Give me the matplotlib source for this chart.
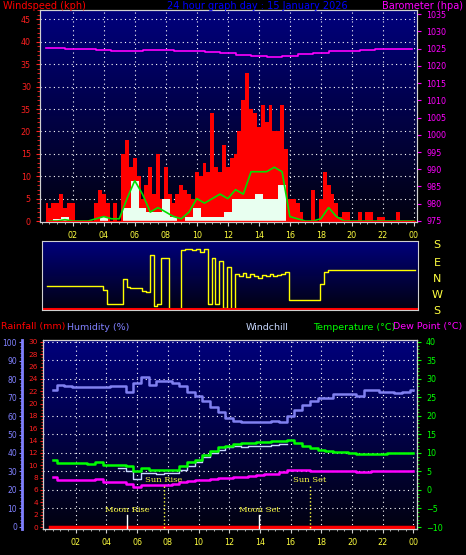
import numpy as np
import matplotlib
matplotlib.use("Agg")
import matplotlib.pyplot as plt
from matplotlib.colors import LinearSegmentedColormap
from matplotlib.ticker import MultipleLocator

# ---------------- data ----------------
hours_q = np.arange(1, 97) * 0.25          # 0.25 .. 24.0
hours_h = np.arange(1, 49) * 0.5           # 0.5 .. 24.0

wind_gust = [4, 3, 4, 4, 6, 3, 4, 4, 0, 0, 0, 0, 0, 4, 7, 6,
             4, 0, 4, 0, 15, 18, 12, 14, 10, 5, 8, 12, 6, 15, 5, 12,
             6, 4, 6, 8, 7, 6, 5, 11, 10, 13, 11, 24, 12, 11, 17, 12,
             14, 15, 20, 27, 33, 25, 24, 21, 26, 22, 26, 20, 20, 26, 16, 5,
             5, 4, 2, 0, 0, 7, 0, 5, 11, 8, 6, 4, 1, 2, 2, 0,
             0, 2, 0, 2, 2, 0, 1, 1, 0, 0, 0, 2, 0, 0, 0, 0]
wind_speed = [0, 0.5, 1, 0, 0, 0, 0, 1, 0, 0, 3, 9, 3, 2, 2, 5,
              1, 0, 1, 3, 1, 1, 1, 2, 5, 5, 5, 6, 5, 5, 8, 0,
              0, 0, 0, 0, 0, 0, 0, 0, 0, 0, 0, 0, 0, 0, 0, 0]
wind_avg = [0, 0, 0.3, 0, 0, 0, 0.5, 1, 0.5, 0.5, 5, 9, 6, 2, 3, 2,
            1, 0.5, 2, 5, 4, 5, 6, 5, 7, 6, 11, 11, 11, 12, 11, 1,
            0.5, 0, 0, 0.5, 3, 1, 0, 0, 0, 0, 0, 0, 0, 0, 0, 0]
baro_hours = [0.3] + list(range(1, 24)) + [23.9]
barometer = [1025.3, 1025.2, 1025.0, 1024.9, 1024.6, 1024.3, 1024.3, 1024.5,
             1024.5, 1024.3, 1024.4, 1024.1, 1023.7, 1023.2, 1022.8, 1022.6,
             1022.8, 1023.3, 1023.8, 1024.2, 1024.4, 1024.7, 1025.0, 1024.8, 1024.9]
wind_dir = [-47] * 7 + [-48] * 8 + [
    -70, -146, -146, -146, -146, -10, -55, -58, -57, -62, -75, -80,
    125, -160, -150, 110, 105, -180, -180, -180, 150, 155, 155, 152,
    155, 140, 160, -150, 110, -150, 90, -170, 60, -175, 20, 10,
    25, 0, 20, 10, -5, 15, 5, 20, 10, 15, 20, 30] + [-128] * 8 + [
    -40, 30, 38, 42] + [42] * 21
humidity = [74, 76.5, 76, 75.5, 75.8, 75.8, 75.5, 75.5, 76, 76, 73, 78, 81, 77, 79, 79,
            78, 76, 73, 71, 68, 65, 62, 59, 57.5, 57, 57, 57, 57, 57.5, 57, 60,
            63, 66, 68, 69.5, 70, 72, 72, 72, 71, 74, 74, 73, 73, 72.5, 73, 74]
temperature = [8.0, 7.2, 7.3, 7.3, 7.2, 7.1, 7.5, 6.8, 6.8, 6.7, 6.5, 5.0, 6.0, 5.3, 5.3, 5.3,
               5.5, 6.5, 7.5, 8.0, 9.5, 10.5, 11.5, 12.0, 12.5, 12.7, 12.8, 12.9, 13.0, 13.1, 13.2, 13.4,
               12.8, 12.0, 11.2, 10.8, 10.5, 10.2, 10.2, 10.1, 9.8, 9.7, 9.7, 9.8, 9.9, 10.1, 10.1, 10.0]
dewpoint = [3.5, 2.8, 2.8, 2.8, 2.8, 2.8, 3.0, 2.2, 2.2, 2.1, 1.7, 0.8, 1.4, 1.4, 1.4, 1.4,
            1.7, 2.1, 2.4, 2.6, 2.8, 3.0, 3.1, 3.3, 3.4, 3.6, 3.8, 4.0, 4.2, 4.4, 4.8, 5.3,
            5.3, 5.3, 5.2, 5.0, 5.2, 5.2, 5.2, 5.0, 4.8, 4.8, 5.0, 5.0, 5.0, 5.2, 5.2, 5.2]
nan = np.nan
windchill = [nan] * 9 + [6.0, 5.0, 3.0, 4.5, 4.5, 4.3, 4.5, 4.5, 5.5, 6.5, 7.5, 9, 10,
                         10.8, 11.5, 11.8, 11.5, 11.9, 11.8, 12.0, 12.2, 12.3] + [nan] * 17
rainfall = [0, 0]
rain_hours = [0.3, 24]
hour_ticks = list(range(2, 25, 2))
hour_labels = ["%02d" % (h % 24) for h in hour_ticks]
dir_labels = ["S", "E", "N", "W", "S"]
wind_ticks = [0, 5, 10, 15, 20, 25, 30, 35, 40, 45]
wind_tick_labels = ["0", "5", "10", "15", "20", "35", "30", "35", "40", "45"]
events = {"Moon Rise": 5.36, "Sun Rise": 7.72, "Moon Set": 13.96, "Sun Set": 17.26}

# ---------------- style ----------------
plt.rcParams['font.family'] = ['DejaVu Sans']
FS = 5.8
YEL = "#ffff40"
cmap = LinearSegmentedColormap.from_list("bg", ["#020210", "#00007c"])
grad = np.linspace(0, 1, 256).reshape(-1, 1)
W, H = 466, 555

fig = plt.figure(figsize=(4.66, 5.55), dpi=100, facecolor="black")

def background(ax):
    ax.set_facecolor("black")
    ax.imshow(grad, cmap=cmap, aspect="auto", extent=[0, 1, 1, 0],
              transform=ax.transAxes, zorder=0)

def frame(ax, col="#d0d0d0"):
    for s in ax.spines.values():
        s.set_color(col)

def ftext(x, y, s, **kw):
    fig.text(x / W, 1 - y / H, s, **kw)

# ---------------- top panel ----------------
ax1 = fig.add_axes([40 / W, 1 - 222 / H, 377 / W, 212 / H])
background(ax1)
frame(ax1)
ax1.set_xlim(-0.11, 24.2)
ax1.set_ylim(-0.22, 47.1)
ax1.fill_between(hours_q, wind_gust, step="mid", color="#ff0000", lw=0, zorder=2)
ax1.fill_between(hours_h, wind_speed, step="mid", color="#e8fff0", lw=0, zorder=3)
ax1.plot(hours_h, wind_avg, color="#00e000", lw=1.2, zorder=4)
ax1.plot([0.3, 24.1], [0, 0], color="#ff0000", lw=1, zorder=4)
ax1.set_yticks(wind_ticks)
ax1.set_yticklabels(wind_tick_labels)
ax1.yaxis.set_minor_locator(MultipleLocator(1))
ax1.tick_params(axis="y", colors="#ff2020", labelsize=FS, length=3)
ax1.tick_params(axis="y", which="minor", colors="#ff2020", length=2)
ax1.set_xticks(hour_ticks)
ax1.set_xticklabels(hour_labels)
ax1.xaxis.set_minor_locator(MultipleLocator(0.5))
ax1.tick_params(axis="x", colors="#d0d0d0", labelcolor=YEL, labelsize=FS, length=3)
ax1.tick_params(axis="x", which="minor", colors="#d0d0d0", length=1.5)
for h in hour_ticks:
    ax1.axvline(h, color="white", ls=(0, (1, 3)), lw=0.8, zorder=1)
for w in wind_ticks[1:]:
    ax1.axhline(w, color="white", ls=(0, (1, 3)), lw=0.8, zorder=1)

ax1b = ax1.twinx()
ax1b.set_ylim(974.7, 1036.2)
ax1b.step(baro_hours, barometer, where="mid", color="#ff00ff", lw=1.2)
ax1b.set_yticks(range(975, 1036, 5))
ax1b.tick_params(axis="y", colors="#ff00ff", labelsize=FS, length=3)
frame(ax1b)

ftext(3, 6, "Windspeed (kph)", color="#ff0000", fontsize=7, va="center")
ftext(257, 6, "24 hour graph day : 15 January 2026", color="#0000ff",
      fontsize=7, va="center", ha="center")
ftext(463, 6, "Barometer (hpa)", color="#ff00ff", fontsize=7, va="center", ha="right")

# ---------------- wind direction panel ----------------
ax2 = fig.add_axes([41.7 / W, 1 - 310 / H, 376 / W, 69 / H])
background(ax2)
frame(ax2)
ax2.set_xlim(-0.11, 24.2)
ax2.set_ylim(-182, 202)
ax2.step(hours_q, wind_dir, where="mid", color="#ffff00", lw=1)
ax2.axhline(-176, color="#ff0000", lw=1.5)
ax2.set_xticks([])
ax2.set_yticks([])
for lab, y in zip(dir_labels, [245, 263, 279, 295, 311]):
    ftext(437, y, lab, color=YEL, fontsize=8, ha="center", va="center")

# ---------------- bottom panel ----------------
ax3 = fig.add_axes([42.7 / W, 1 - 529 / H, 374.3 / W, 189 / H])
background(ax3)
frame(ax3)

ax3r = ax3.twinx()
ax3h = ax3.twinx()

ax3.set_xlim(-0.15, 24.23)
ax3.set_ylim(-10.54, 40.5)
for h in hour_ticks:
    ax3.axvline(h, color="white", ls=(0, (1, 3)), lw=0.8, zorder=1)
for t in range(-5, 41, 5):
    ax3.axhline(t, color="white", ls=(0, (1, 3)), lw=0.8, zorder=1)
ax3.step(hours_h, windchill, where="mid", color="#c8d8ff", lw=1, zorder=3)
ax3.set_xticks(hour_ticks)
ax3.set_xticklabels(hour_labels)
ax3.xaxis.set_minor_locator(MultipleLocator(0.5))
ax3.tick_params(axis="x", which="both", colors="#d0d0d0", labelcolor=YEL, labelsize=FS, length=3)
ax3.tick_params(axis="x", which="minor", length=1.5)
ax3.set_yticks([])

# rainfall axis (left, inner)
ax3r.yaxis.tick_left()
ax3r.set_ylim(-0.32, 30.3)
ax3r.set_yticks(range(0, 31, 2))
ax3r.yaxis.set_minor_locator(MultipleLocator(0.5))
ax3r.tick_params(axis="y", which="both", colors="#ff2020", labelsize=5.3, length=2.5, pad=1)
ax3r.tick_params(axis="y", which="minor", length=1.5)
ax3r.plot(rain_hours, rainfall, color="#ff0000", lw=2.5, zorder=5)
frame(ax3r)

# humidity axis (left, outer)
ax3h.yaxis.tick_left()
ax3h.spines["left"].set_position(("outward", 15))
ax3h.spines["left"].set_color("#8080ff")
ax3h.spines["left"].set_linewidth(2)
ax3h.set_ylim(-1.1, 101.1)
ax3h.set_yticks(range(0, 101, 10))
ax3h.yaxis.set_minor_locator(MultipleLocator(2))
ax3h.tick_params(axis="y", which="both", colors="#8080ff", labelsize=5.5, length=2.5, pad=1)
ax3h.tick_params(axis="y", which="minor", length=1.5)
ax3h.step(hours_h, humidity, where="mid", color="#8080f0", lw=1.8, zorder=3)
for s in ["right", "top", "bottom"]:
    ax3h.spines[s].set_visible(False)

# temperature axis (right) on its own twin drawn on top
ax3t = ax3.twinx()
ax3t.set_ylim(-10.54, 40.5)
ax3t.yaxis.tick_right()
ax3t.step(hours_h, temperature, where="mid", color="#00ff00", lw=1.8, zorder=4)
ax3t.step(hours_h, dewpoint, where="mid", color="#ff00ff", lw=1.8, zorder=4)
ax3t.set_yticks(range(-10, 41, 5))
ax3t.yaxis.set_minor_locator(MultipleLocator(1))
ax3t.tick_params(axis="y", which="both", colors="#00ff00", labelsize=FS, length=3)
ax3t.tick_params(axis="y", which="minor", length=1.5)
frame(ax3t)

# sun / moon events
for name, h in events.items():
    sun = name.startswith("Sun")
    ytxt = 1.5 if sun else -6.5
    ax3t.text(h, ytxt, name, color="#ffff40", fontsize=6, family="DejaVu Serif",
              ha="center", va="bottom", zorder=6)
    ax3t.plot([h, h], [ytxt - 0.3, -10.5], color="#ffff40" if sun else "white",
              ls=":" if sun else "-", lw=1, zorder=6)

ftext(1, 327, "Rainfall (mm)", color="#ff0000", fontsize=6.8, va="center")
ftext(67, 327, "Humidity (%)", color="#8080ff", fontsize=6.8, va="center")
ftext(246, 327, "Windchill", color="#c8d8ff", fontsize=6.8, va="center")
ftext(313, 327, "Temperature (°C)", color="#00ff00", fontsize=6.8, va="center")
ftext(393, 327, "Dew Point (°C)", color="#ff00ff", fontsize=6.8, va="center")

fig.savefig("out.png", dpi=100, facecolor="black")
